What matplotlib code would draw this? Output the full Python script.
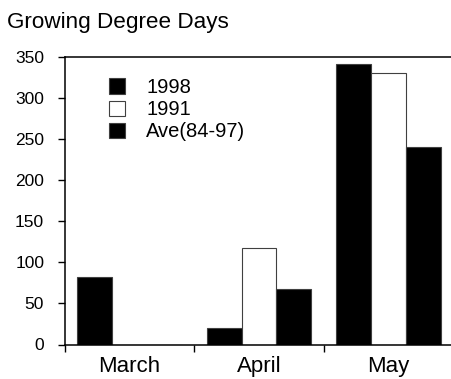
import matplotlib
matplotlib.use("Agg")
import matplotlib.pyplot as plt
import numpy as np
from matplotlib.patches import Patch

months = ["March", "April", "May"]
series_names = ["1998", "1991", "Ave(84-97)"]
v1998 = [82, 20, 342]
v1991 = [0, 117, 330]
vave = [0, 67, 240]
y_ticks = [0, 50, 100, 150, 200, 250, 300, 350]

plt.rcParams['font.family'] = ['Liberation Sans', 'DejaVu Sans']

W, H = 451, 379
fig = plt.figure(figsize=(W / 100, H / 100), dpi=100)
left, right, top, bottom = 65, 453, 57, 344.5
ax = fig.add_axes([left / W, 1 - bottom / H, (right - left) / W, (bottom - top) / H])

x = np.arange(len(months))
bw = 0.27
faces = ["black", "white", "black"]
for i, (vals, fc) in enumerate(zip([v1998, v1991, vave], faces)):
    ax.bar(x + (i - 1) * bw, vals, width=bw, color=fc, edgecolor="#404040",
           linewidth=0.8, zorder=2)

ax.set_xlim(-0.5, 2.5)
ax.set_ylim(0, 350)
ax.set_yticks(y_ticks)
ax.set_xticks([-0.5, 0.5, 1.5, 2.5])
ax.set_xticklabels([])
ax.set_xticks(x, minor=True)
ax.set_xticklabels(months, minor=True, fontsize=16)
ax.tick_params(axis='x', which='minor', length=0, pad=8.5)
ax.tick_params(axis='x', which='major', direction='out', length=5, width=1)
ax.tick_params(axis='y', direction='out', length=5, width=1, labelsize=12.5, pad=10)

for s in ['left', 'bottom', 'top']:
    ax.spines[s].set_linewidth(1.1)
ax.spines['right'].set_visible(False)

handles = [Patch(facecolor=fc, edgecolor="#404040", linewidth=0.8) for fc in faces]
leg = fig.legend(handles, series_names, loc='upper left',
                 bbox_to_anchor=(109 / W, 1 - 78 / H), frameon=False,
                 fontsize=14.5, handlelength=0.8, handleheight=0.8,
                 handletextpad=1.05, labelspacing=0.16, borderpad=0,
                 borderaxespad=0)

fig.text(7 / W, 1 - 28.3 / H, "Growing Degree Days", fontsize=16.2,
         ha='left', va='baseline')

fig.savefig("out.png", dpi=100)
